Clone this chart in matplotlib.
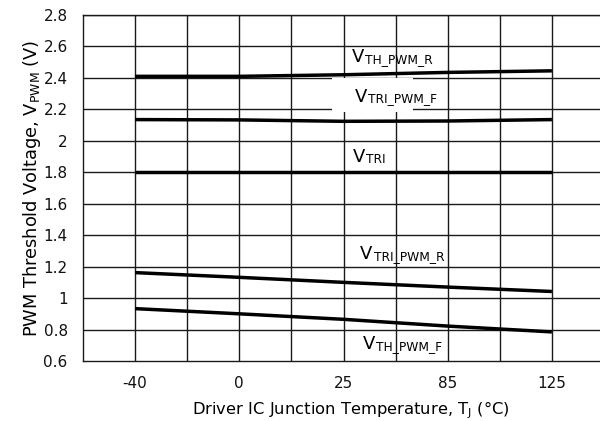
import matplotlib
matplotlib.use("Agg")
import matplotlib.pyplot as plt
from matplotlib.patches import Rectangle

plt.rcParams['font.family'] = ['DejaVu Sans']

# Temperature categories and their slot positions on the category axis
temps = ["-40", "0", "25", "85", "125"]
slots = [1, 3, 5, 7, 9]

# Threshold voltages (V) per temperature
v_th_pwm_r = [2.41, 2.41, 2.42, 2.435, 2.445]
v_tri_pwm_f = [2.135, 2.133, 2.124, 2.126, 2.135]
v_tri = [1.80, 1.80, 1.80, 1.80, 1.80]
v_tri_pwm_r = [1.162, 1.132, 1.10, 1.07, 1.042]
v_th_pwm_f = [0.933, 0.90, 0.865, 0.822, 0.785]

y_ticks = [0.6, 0.8, 1.0, 1.2, 1.4, 1.6, 1.8, 2.0, 2.2, 2.4, 2.6, 2.8]
y_labels = ["0.6", "0.8", "1", "1.2", "1.4", "1.6", "1.8", "2", "2.2", "2.4", "2.6", "2.8"]

fig = plt.figure(figsize=(6.0, 4.21), dpi=100)
ax = fig.add_axes([83 / 600, 1 - 361 / 421, 521 / 600, 346 / 421])
ax.set_xlim(0, 10)
ax.set_ylim(0.6, 2.8)

grid_kw = dict(color="#1a1a1a", lw=1.0, zorder=1)
for gx in range(1, 10):
    ax.axvline(gx, **grid_kw)
for gy in y_ticks[1:]:
    ax.axhline(gy, **grid_kw)

# blank patch behind the V_TRI_PWM_F label
ax.add_patch(Rectangle((4.78, 2.185), 1.55, 0.215, facecolor="white",
                       edgecolor="none", zorder=2))

for series in (v_th_pwm_r, v_tri_pwm_f, v_tri, v_tri_pwm_r, v_th_pwm_f):
    ax.plot(slots, series, color="black", lw=2.5, solid_capstyle="butt", zorder=3)

labels = [
    ("TH_PWM_R", 5.16, 2.503),
    ("TRI_PWM_F", 5.22, 2.249),
    ("TRI", 5.18, 1.867),
    ("TRI_PWM_R", 5.32, 1.247),
    ("TH_PWM_F", 5.37, 0.675),
]
for sub, lx, ly in labels:
    ax.text(lx, ly, "V", fontsize=13, ha="left", va="baseline", zorder=4)
    ax.annotate(sub, xy=(lx, ly), xytext=(9.6, -0.6), textcoords="offset points",
                fontsize=8.8, ha="left", va="baseline", zorder=4)

ax.set_xticks(slots)
ax.set_xticklabels(temps)
ax.set_yticks(y_ticks)
ax.set_yticklabels(y_labels)
ax.tick_params(length=0, labelsize=11, pad=11, colors="#111111")

for side in ("left", "top", "bottom"):
    ax.spines[side].set_color("#1a1a1a")
    ax.spines[side].set_linewidth(1.0)
ax.spines["right"].set_visible(False)

ax.set_ylabel(r"PWM Threshold Voltage, $\mathregular{V_{PWM}}$ (V)", fontsize=12.8)
ax.set_xlabel(r"Driver IC Junction Temperature, $\mathregular{T_J}$ (°C)", fontsize=11.8)
ax.yaxis.set_label_coords(-0.076, 0.5)
ax.xaxis.set_label_coords(0.514, -0.11)

fig.savefig("out.png", dpi=100)
